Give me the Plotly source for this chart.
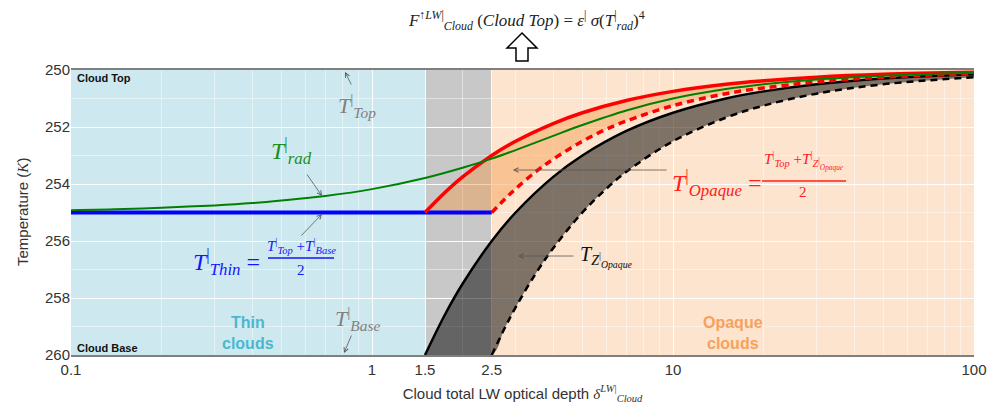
import plotly.graph_objects as go

# ---------------- data ----------------
T_top = 250.0
T_base = 260.0
regions = [0.1, 1.5, 2.5, 100]          # thin | transition | opaque

delta_rad = [0.1, 0.15, 0.2, 0.3, 0.4, 0.5, 0.7, 1, 1.5, 2, 2.5, 3, 4, 5, 7, 10, 15, 20, 30, 50, 70, 100]
T_rad = [254.92, 254.88, 254.83, 254.75, 254.67, 254.58, 254.42, 254.18, 253.79, 253.43, 253.11,
         252.81, 252.31, 251.93, 251.42, 251.00, 250.67, 250.50, 250.33, 250.20, 250.14, 250.10]

delta_thin = [0.1, 2.5]
T_thin = [255.0, 255.0]

delta_solid = [1.5, 1.75, 2, 2.5, 3, 4, 5, 7, 10, 15, 20, 30, 50, 100]
T_opaque_top = [255.0, 254.29, 253.75, 253.0, 252.5, 251.88, 251.5, 251.07, 250.75, 250.5, 250.38, 250.25, 250.15, 250.08]
T_zop_top = [260.0, 258.57, 257.5, 256.0, 255.0, 253.75, 253.0, 252.14, 251.5, 251.0, 250.75, 250.5, 250.3, 250.15]

delta_dashed = [2.5, 2.75, 3, 3.5, 4, 5, 6, 7, 10, 15, 20, 30, 50, 100]
T_opaque_bot = [255.0, 254.55, 254.17, 253.57, 253.13, 252.5, 252.08, 251.79, 251.25, 250.83, 250.63, 250.42, 250.25, 250.13]
T_zop_bot = [260.0, 259.09, 258.33, 257.14, 256.25, 255.0, 254.17, 253.57, 252.5, 251.67, 251.25, 250.83, 250.5, 250.25]

x_tickvals = [0.1, 1, 1.5, 2.5, 10, 100]
x_ticktext = ["0.1", "1", "1.5", "2.5", "10", "100"]
x_minor = [0.2, 0.3, 0.4, 0.5, 0.6, 0.7, 0.8, 0.9, 2, 3, 4, 5, 6, 7, 8, 9,
           20, 30, 40, 50, 60, 70, 80, 90]
y_tickvals = [250, 252, 254, 256, 258, 260]

# ---------------- layout helpers ----------------
W, H = 989, 415
PL, PR, PT, PB = 71, 974, 70, 355   # plot area in page pixels
ML, MT = PL, PT
MR, MB = W - PR, H - PB
PW, PH = PR - PL, PB - PT


def P(px, py):
    return (px - PL) / PW, (PB - py) / PH


SERIF = "Liberation Serif"
SANS = "Liberation Sans"

fig = go.Figure()

# backgrounds
bg_colors = ["#CDE9EF", "#C8C8C8", "#FDE4CE"]
for i, c in enumerate(bg_colors):
    fig.add_shape(type="rect", xref="x", yref="y", x0=regions[i], x1=regions[i + 1],
                  y0=T_top, y1=T_base, fillcolor=c, line_width=0, layer="below")

# orange band (between red solid and red dashed / thin line)
fig.add_trace(go.Scatter(x=[delta_solid[0]] + delta_dashed, y=[T_thin[0]] + T_opaque_bot,
                         mode="lines", line=dict(width=0, shape="spline"), hoverinfo="skip"))
fig.add_trace(go.Scatter(x=delta_solid, y=T_opaque_top, mode="lines", fill="tonexty",
                         fillcolor="rgba(244,150,70,0.42)",
                         line=dict(width=0, shape="spline"), hoverinfo="skip"))
# dark band (between black solid and black dashed)
fig.add_trace(go.Scatter(x=[delta_solid[0]] + delta_dashed, y=[T_base] + T_zop_bot,
                         mode="lines", line=dict(width=0, shape="spline"), hoverinfo="skip"))
fig.add_trace(go.Scatter(x=delta_solid, y=T_zop_top, mode="lines", fill="tonexty",
                         fillcolor="rgba(0,0,0,0.5)",
                         line=dict(width=0, shape="spline"), hoverinfo="skip"))

# lines
fig.add_trace(go.Scatter(x=delta_solid, y=T_zop_top, mode="lines",
                         line=dict(color="black", width=2.5, shape="spline")))
fig.add_trace(go.Scatter(x=delta_dashed, y=T_zop_bot, mode="lines",
                         line=dict(color="black", width=2.5, dash="7px,5px", shape="spline")))
fig.add_trace(go.Scatter(x=delta_thin, y=T_thin, mode="lines",
                         line=dict(color="#0000FF", width=4)))
fig.add_trace(go.Scatter(x=delta_dashed, y=T_opaque_bot, mode="lines",
                         line=dict(color="#FF0000", width=3.5, dash="7px,5px", shape="spline")))
fig.add_trace(go.Scatter(x=delta_solid, y=T_opaque_top, mode="lines",
                         line=dict(color="#FF0000", width=3.5, shape="spline")))
fig.add_trace(go.Scatter(x=delta_rad, y=T_rad, mode="lines",
                         line=dict(color="#008000", width=2, shape="spline")))


def txt(px, py, text, size, color, family=SERIF, xanchor="center", angle=0):
    x, y = P(px, py)
    fig.add_annotation(x=x, y=y, xref="paper", yref="paper", text=text, showarrow=False,
                       xanchor=xanchor, yanchor="middle", textangle=angle,
                       font=dict(family=family, size=size, color=color))


def arrow(hx, hy, tx, ty):
    x, y = P(hx, hy)
    fig.add_annotation(x=x, y=y, xref="paper", yref="paper", text="", showarrow=True,
                       ax=tx - hx, ay=ty - hy, arrowhead=5, arrowsize=1.1,
                       arrowwidth=0.8, arrowcolor="#555555")


def hline(x0, x1, py, color):
    a, b = P(x0, py)
    c, _ = P(x1, py)
    fig.add_shape(type="line", xref="paper", yref="paper", x0=a, x1=c, y0=b, y1=b,
                  line=dict(color=color, width=1.3))


Tb = "<i>T</i><sup>|</sup>"

# corner labels
txt(75, 78, "<b>Cloud Top</b>", 11, "#111", SANS, "left")
txt(75, 348, "<b>Cloud Base</b>", 11, "#111", SANS, "left")
txt(248, 333, "<b>Thin<br>clouds</b>", 16, "#4DB6CF", SANS)
txt(733, 333, "<b>Opaque<br>clouds</b>", 16, "#F7A15C", SANS)

# T top / base
txt(357, 105, Tb + "<sub><i>Top</i></sub>", 22, "#808080")
arrow(345, 72, 352, 86)
txt(357, 318, Tb + "<sub><i>Base</i></sub>", 22, "#808080")
arrow(344, 353, 352, 334)

# T rad
txt(291, 151, Tb + "<sub><i>rad</i></sub>", 24, "#1E8C1E")
arrow(322, 196, 306, 173)

# T thin
txt(226, 262, Tb + "<sub><i>Thin</i></sub> =", 24, "#1515FF")
txt(301, 246, Tb + "<sub><i>Top</i></sub> +" + Tb + "<sub><i>Base</i></sub>", 15, "#1515FF")
hline(268, 334, 258, "#1515FF")
txt(301, 270, "2", 15, "#1515FF")
arrow(322, 214, 300, 237)

# T opaque
txt(716, 183, Tb + "<sub><i>Opaque</i></sub> =", 24, "#FF2020")
txt(804, 160, Tb + "<sub><i>Top</i></sub> +" + Tb + "<sub><i>Z</i><sup>|</sup><sub><i>Opaque</i></sub></sub>", 15, "#FF2020")
hline(762, 846, 181, "#FF2020")
txt(803, 192, "2", 15, "#FF2020")
arrow(513, 170, 668, 170)

# T Z opaque
txt(606, 256, "<i>T</i><sub><i>Z</i><sup>|</sup><sub><i>Opaque</i></sub></sub>", 20, "#111")
arrow(518, 256, 575, 256)

# top formula
txt(526, 21, "<i>F</i><sup>↑<i>LW</i>|</sup><sub><i>Cloud</i></sub> (<i>Cloud Top</i>) = "
             "<i>ε</i><sup>|</sup> <i>σ</i>(" + Tb + "<sub><i>rad</i></sub>)<sup>4</sup>", 17, "#222")

# hollow up arrow
pts = [(522, 33), (537, 48), (528, 48), (528, 61), (516, 61), (516, 48), (507, 48)]
path = "M " + " L ".join("%.5f,%.5f" % P(px, py) for px, py in pts) + " Z"
fig.add_shape(type="path", xref="paper", yref="paper", path=path,
              fillcolor="white", line=dict(color="black", width=1.5))

# y-axis title
txt(22, 212, "Temperature (<span style='font-family:Liberation Serif'><i>K</i></span>)",
    15, "#333", SANS, "center", -90)

fig.update_xaxes(type="log", range=[-1, 2], tickvals=x_tickvals, ticktext=x_ticktext,
                 automargin=False,
                 showgrid=True, gridcolor="rgba(255,255,255,0.9)", gridwidth=1.2,
                 minor=dict(tickvals=x_minor, showgrid=True,
                            gridcolor="rgba(255,255,255,0.45)", gridwidth=0.8),
                 showline=True, mirror=True, linecolor="#7F7F7F", linewidth=2,
                 zeroline=False, ticks="",
                 tickfont=dict(family=SANS, size=15, color="#333"),
                 title=dict(text="Cloud total LW optical depth "
                                 "<span style='font-family:Liberation Serif'><i>δ</i>"
                                 "<sup><i>LW</i>|</sup><sub><i>Cloud</i></sub></span>",
                            font=dict(family=SANS, size=15, color="#333"), standoff=11))
fig.update_yaxes(range=[T_base, T_top], tickvals=y_tickvals, automargin=False,
                 showgrid=True, gridcolor="rgba(255,255,255,0.9)", gridwidth=1.2,
                 minor=dict(dtick=1, showgrid=True,
                            gridcolor="rgba(255,255,255,0.45)", gridwidth=0.8),
                 zeroline=False, ticks="", showline=False,
                 tickfont=dict(family=SANS, size=15, color="#333"))

fig.update_layout(width=W, height=H, margin=dict(l=ML, r=MR, t=MT, b=MB),
                  plot_bgcolor="white", paper_bgcolor="white", showlegend=False)

fig.write_html("out.html", config={"displayModeBar": False},
               post_script="document.body.style.margin='0px';document.body.style.overflow='hidden';")
